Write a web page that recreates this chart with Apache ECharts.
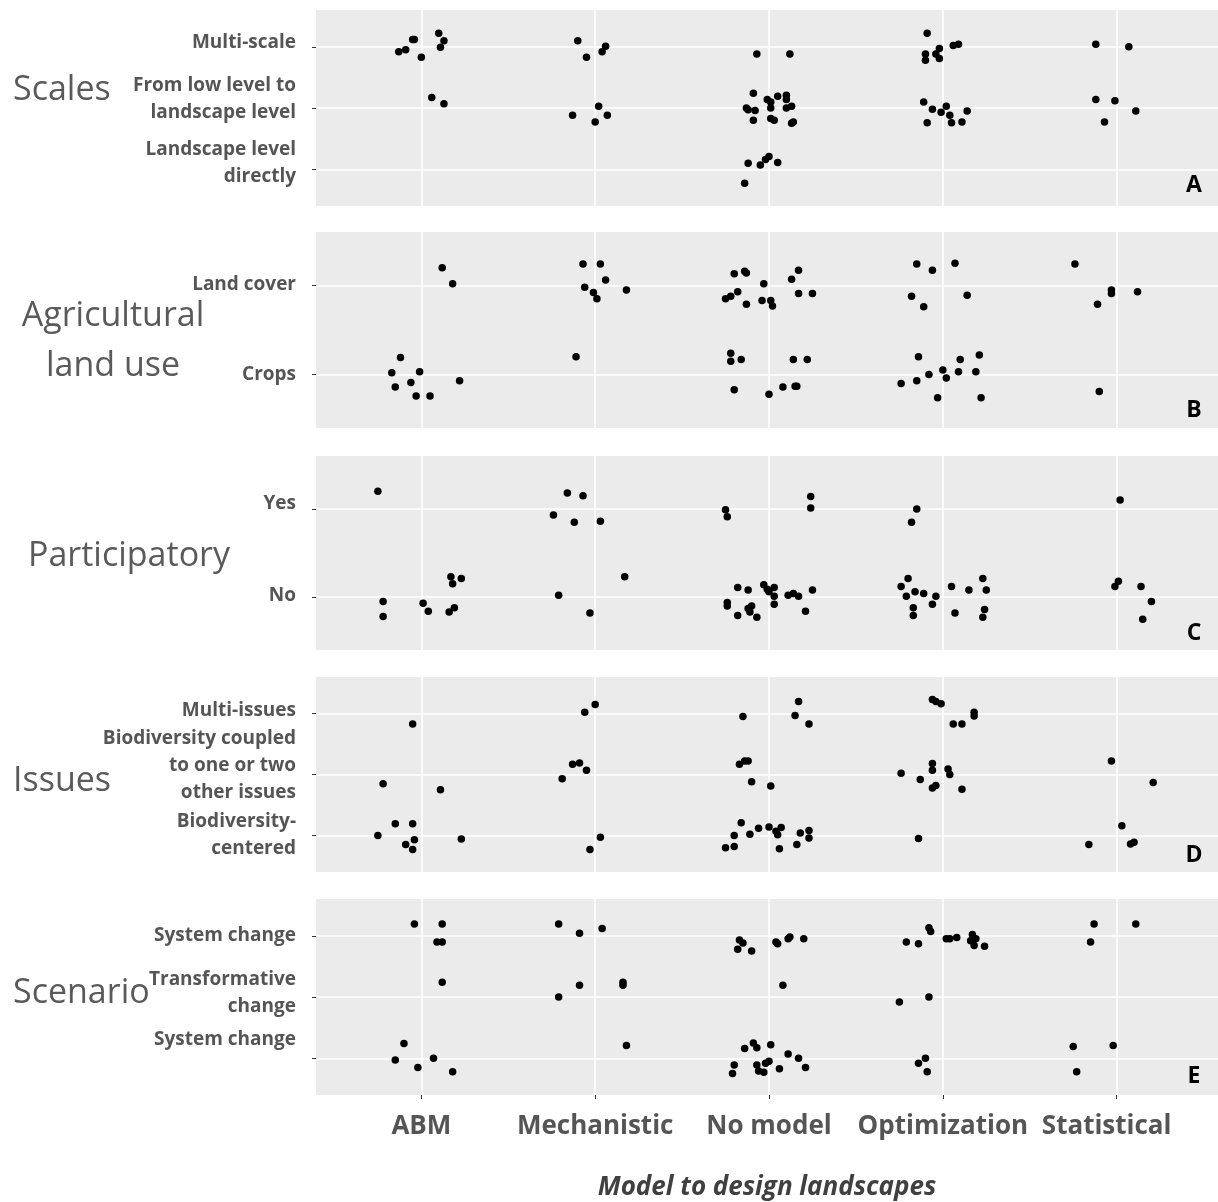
<!DOCTYPE html>
<html><head><meta charset="utf-8">
<script src="https://cdn.jsdelivr.net/npm/echarts@6/dist/echarts.min.js"></script>
<style>html,body{margin:0;padding:0;background:#fff}#c{width:1218px;height:1202px}</style>
</head><body><div id="c"></div>
<script>
// ---------- DATA ----------
const modelCategories = ['ABM', 'Mechanistic', 'No model', 'Optimization', 'Statistical'];
const xTitle = 'Model to design landscapes';

// level labels, index 0 = lowest level (value 1)
const scalesLevels = ['Landscape level\ndirectly', 'From low level to\nlandscape level', 'Multi-scale'];
const landUseLevels = ['Crops', 'Land cover'];
const participatoryLevels = ['No', 'Yes'];
const issuesLevels = ['Biodiversity-\ncentered', 'Biodiversity coupled\nto one or two\nother issues', 'Multi-issues'];
const scenarioLevels = ['System change', 'Transformative\nchange', 'System change'];

const panelTitles = ['Scales', 'Agricultural\nland use', 'Participatory', 'Issues', 'Scenario'];
const panelLetters = ['A', 'B', 'C', 'D', 'E'];

// jittered points [model position, level position]
const scalesPoints = [
 [0.87,2.92],[0.91,2.95],[0.95,3.12],[0.96,3.12],[1.00,2.83],[1.10,3.22],[1.13,3.10],[1.11,2.99],[1.06,2.17],[1.13,2.07],
 [1.90,3.10],[1.95,2.83],[2.06,3.01],[2.04,2.92],[1.87,1.88],[2.02,2.03],[2.00,1.77],[2.07,1.88],
 [2.93,2.88],[3.12,2.88],
 [2.87,2.00],[2.88,1.97],[2.92,1.96],[2.91,2.24],[2.91,1.80],[2.99,2.14],[3.01,2.10],[3.01,2.00],[3.01,1.83],[3.03,1.80],[3.05,2.19],[3.10,2.21],[3.10,2.14],[3.10,2.00],[3.13,2.03],[3.13,1.75],[3.14,1.77],
 [2.88,1.10],[2.86,0.77],[2.95,1.07],[2.98,1.16],[3.00,1.21],[3.05,1.11],
 [3.91,3.22],[3.90,2.88],[3.90,2.78],[3.96,2.88],[3.98,2.97],[3.98,2.81],[4.06,3.02],[4.09,3.04],
 [3.89,2.10],[3.94,1.98],[3.91,1.76],[3.99,1.93],[4.02,2.03],[4.04,1.88],[4.05,1.76],[4.11,1.77],[4.14,1.95],
 [4.88,3.04],[5.07,3.00],[4.88,2.14],[4.99,2.12],[5.11,1.95],[4.93,1.77]
];
const landUsePoints = [
 [1.12,2.20],[1.18,2.02],[0.88,1.19],[0.83,1.02],[0.85,0.86],[0.94,0.91],[0.99,1.03],[0.97,0.76],[1.05,0.76],[1.22,0.93],
 [1.93,2.24],[2.03,2.24],[2.06,2.06],[1.94,1.98],[1.99,1.92],[2.01,1.85],[2.18,1.95],[1.89,1.20],
 [2.80,2.13],[2.86,2.16],[2.87,2.14],[2.82,1.93],[2.78,1.88],[2.75,1.85],[2.87,1.79],[2.97,2.02],[2.96,1.83],[3.01,1.83],[3.02,1.77],[3.13,2.07],[3.17,2.17],[3.17,1.91],[3.25,1.91],
 [2.78,1.24],[2.78,1.15],[2.84,1.17],[2.80,0.83],[3.00,0.78],[3.14,1.17],[3.22,1.17],[3.08,0.86],[3.15,0.87],[3.16,0.87],
 [3.85,2.24],[3.94,2.17],[4.07,2.25],[3.82,1.88],[3.89,1.76],[4.14,1.89],
 [3.86,1.20],[4.10,1.17],[4.21,1.22],[3.76,0.90],[3.85,0.93],[3.92,1.00],[4.00,1.05],[4.02,0.96],[4.09,1.03],[4.19,1.03],[3.97,0.74],[4.22,0.74],
 [4.76,2.24],[4.97,1.95],[4.97,1.91],[4.89,1.79],[5.12,1.93],[4.90,0.81]
];
const participatoryPoints = [
 [0.75,2.20],[0.78,0.95],[0.78,0.78],[1.01,0.93],[1.04,0.84],[1.16,0.83],[1.19,0.88],[1.17,1.23],[1.18,1.15],[1.23,1.21],
 [1.84,2.18],[1.93,2.15],[1.76,1.93],[1.88,1.85],[2.03,1.86],[2.17,1.23],[1.79,1.02],[1.97,0.82],
 [2.75,1.99],[2.76,1.91],[3.24,2.14],[3.24,2.01],
 [2.82,1.11],[2.88,1.08],[2.76,0.94],[2.76,0.90],[2.82,0.79],[2.88,0.87],[2.90,0.90],[2.89,0.83],[2.93,0.77],[2.97,1.14],[2.99,1.09],[3.00,1.06],[3.03,1.11],[3.03,1.01],[3.03,0.92],[3.11,1.02],[3.14,1.04],[3.17,1.01],[3.25,1.08],[3.21,0.84],
 [3.85,2.00],[3.82,1.85],
 [3.80,1.21],[3.76,1.12],[3.79,1.01],[3.84,1.06],[3.89,1.04],[3.96,1.01],[3.94,0.92],[3.83,0.88],[3.83,0.79],[4.05,1.12],[4.15,1.08],[4.07,0.82],[4.23,1.21],[4.25,1.08],[4.24,0.86],[4.23,0.77],
 [5.02,2.10],[4.99,1.12],[5.01,1.18],[5.14,1.12],[5.20,0.95],[5.15,0.75]
];
const issuesPoints = [
 [0.95,2.83],[0.78,1.85],[1.11,1.75],[0.85,1.19],[0.95,1.19],[0.75,1.00],[0.91,0.85],[0.96,0.93],[0.95,0.77],[1.23,0.94],
 [2.00,3.15],[1.94,3.02],[1.87,2.17],[1.91,2.19],[1.95,2.07],[1.81,1.93],[2.03,0.97],[1.97,0.77],
 [2.85,2.95],[3.17,3.20],[3.15,2.97],[3.23,2.83],
 [2.83,2.17],[2.86,2.22],[2.88,2.22],[2.90,1.88],[3.01,1.81],
 [2.84,1.21],[2.80,1.00],[2.75,0.80],[2.80,0.82],[2.89,1.02],[2.94,1.12],[3.00,1.14],[3.04,1.07],[3.07,1.13],[3.05,1.01],[3.06,0.78],[3.16,0.85],[3.18,1.04],[3.23,1.08],[3.23,0.96],
 [3.94,3.23],[3.96,3.20],[3.99,3.16],[4.18,3.02],[4.18,2.96],[4.06,2.83],[4.11,2.83],
 [3.94,2.18],[3.94,2.07],[4.03,2.09],[4.04,2.00],[3.76,2.02],[3.87,1.92],[3.94,1.78],[3.96,1.82],[4.11,1.76],[3.86,0.95],
 [4.97,2.22],[5.21,1.87],[5.03,1.16],[4.84,0.85],[5.08,0.86],[5.10,0.89]
];
const scenarioPoints = [
 [0.96,3.19],[1.12,3.19],[1.09,2.90],[1.12,2.90],[1.12,2.24],[0.90,1.24],[0.85,0.97],[0.98,0.85],[1.07,1.00],[1.18,0.78],
 [1.79,3.19],[1.91,3.04],[2.04,3.12],[1.91,2.19],[1.79,2.00],[2.16,2.24],[2.16,2.19],[2.18,1.21],
 [2.83,2.93],[2.85,2.88],[2.82,2.78],[2.90,2.75],[3.04,2.90],[3.05,2.87],[3.11,2.95],[3.12,2.98],[3.20,2.95],[3.08,2.19],
 [2.91,1.25],[2.93,1.17],[2.86,1.16],[3.01,1.22],[2.80,0.89],[2.79,0.75],[2.93,0.89],[2.94,0.79],[2.97,0.77],[2.98,0.92],[3.00,0.95],[3.06,0.83],[3.11,1.07],[3.17,1.00],[3.21,0.85],
 [3.79,2.90],[3.86,2.87],[3.92,3.13],[3.93,3.07],[4.02,2.95],[4.04,2.95],[4.08,2.97],[4.17,3.02],[4.16,2.92],[4.19,2.95],[4.18,2.84],[4.24,2.83],[3.75,1.92],[3.92,2.00],[3.86,0.92],[3.90,1.00],[3.91,0.78],
 [4.87,3.19],[5.11,3.19],[4.85,2.90],[4.75,1.19],[4.98,1.21],[4.77,0.78]
];

// ---------- LAYOUT / STYLE ----------
const panelLevels = [scalesLevels, landUseLevels, participatoryLevels, issuesLevels, scenarioLevels];
const panelPoints = [scalesPoints, landUsePoints, participatoryPoints, issuesPoints, scenarioPoints];
const layout = {
  left: 316,
  tops: [10, 232, 456, 677, 899],
  heights: [196, 196, 194, 195, 196],
  labelShift: [[6, 9, 4], [0, 1], [1, 5], [0, 9, 3], [19, 4, 0]],
  titlePos: [[13, 90, 'left'], [113, 341, 'center'], [28, 556, 'left'], [13, 781, 'left'], [13, 993, 'left']],
  letterY: [185, 410, 633, 855, 1076]
};
const FONT = 'Open Sans';
const GREY = '#555555';

const rich = {
  t: {fontSize: 19, fontWeight: 'bold', fontFamily: FONT, color: GREY, lineHeight: 27, align: 'right'}
};
layout.labelShift.flat().forEach(s => { if (s > 0) rich['s' + s] = {fontSize: 1, lineHeight: 2 * s}; });

function yFormatter(levels, shifts) {
  return function (v) {
    const i = Math.round(v) - 1;
    if (i < 0 || i >= levels.length) return '';
    const lines = levels[i].split('\n').map(s => '{t|' + s + '}');
    if (shifts[i] > 0) lines.push('{s' + shifts[i] + '| }');
    return lines.join('\n');
  };
}

const grids = [], xAxes = [], yAxes = [], series = [], graphics = [];
const catValues = modelCategories.map((c, i) => i + 1);

panelLevels.forEach((levels, p) => {
  const n = levels.length;
  const isLast = p === panelLevels.length - 1;
  const levelValues = levels.map((l, i) => i + 1);
  const oddValues = levelValues.filter(v => v % 2 === 1);
  const evenValues = levelValues.filter(v => v % 2 === 0);
  grids.push({
    left: layout.left, right: 0, top: layout.tops[p], height: layout.heights[p],
    show: true, backgroundColor: '#EBEBEB', borderWidth: 0, outerBoundsMode: 'none'
  });
  xAxes.push({
    type: 'value', gridIndex: p, min: 0.394, max: 5.583,
    axisLine: {show: false},
    axisTick: {show: isLast, customValues: catValues, length: 4, lineStyle: {color: '#333', width: 1}},
    axisLabel: {
      show: isLast, customValues: catValues, margin: 19, hideOverlap: false,
      formatter: v => {
        const name = modelCategories[Math.round(v) - 1] || '';
        return name === 'Statistical' ? '{st|' + name + '}' : '{c|' + name + '}';
      },
      rich: {
        c: {fontSize: 26, fontWeight: 'bold', fontFamily: FONT, color: GREY},
        st: {fontSize: 26, fontWeight: 'bold', fontFamily: FONT, color: GREY, padding: [0, 20, 0, 0]}
      }
    },
    splitLine: {show: true, lineStyle: {color: '#FFFFFF', width: 1.6}},
    name: isLast ? xTitle : '', nameLocation: 'middle', nameGap: 80,
    nameTextStyle: {fontSize: 26, fontWeight: 'bold', fontStyle: 'italic', fontFamily: FONT, color: '#404040'}
  });
  // main y axis: ticks + grid lines for all levels, labels for odd levels
  yAxes.push({
    type: 'value', gridIndex: p, min: 0.4, max: n + 0.6, position: 'left',
    axisLine: {show: false},
    axisTick: {show: true, customValues: levelValues, length: 4, lineStyle: {color: '#333', width: 1}},
    axisLabel: {show: true, customValues: oddValues, margin: 20, hideOverlap: false,
      formatter: yFormatter(levels, layout.labelShift[p]), rich: rich},
    splitLine: {show: true, lineStyle: {color: '#FFFFFF', width: 1.6}}
  });
  // companion y axis on the same grid: labels for even levels
  yAxes.push({
    type: 'value', gridIndex: p, min: 0.4, max: n + 0.6, position: 'left', offset: 0,
    axisLine: {show: false},
    axisTick: {show: false, customValues: evenValues},
    axisLabel: {show: true, customValues: evenValues, margin: 20, hideOverlap: false,
      formatter: yFormatter(levels, layout.labelShift[p]), rich: rich},
    splitLine: {show: false}
  });
  series.push({
    type: 'scatter', xAxisIndex: p, yAxisIndex: 2 * p, data: panelPoints[p],
    symbolSize: 7.5, itemStyle: {color: '#000000', opacity: 1}, silent: true
  });
  const tp = layout.titlePos[p];
  graphics.push({
    type: 'text', x: tp[0], y: tp[1], silent: true,
    style: {text: panelTitles[p], fontSize: 34, fontFamily: FONT, fill: '#5a5a5a', align: tp[2], verticalAlign: 'middle', lineHeight: 50}
  });
  graphics.push({
    type: 'text', x: 1194, y: layout.letterY[p], silent: true,
    style: {text: panelLetters[p], fontSize: 23, fontWeight: 'bold', fontFamily: FONT, fill: '#000', align: 'center', verticalAlign: 'middle'}
  });
});

const chart = echarts.init(document.getElementById('c'), null, {renderer: 'canvas'});
chart.setOption({
  backgroundColor: '#ffffff',
  animation: false,
  grid: grids, xAxis: xAxes, yAxis: yAxes, series: series,
  graphic: graphics
});
</script>
</body></html>
